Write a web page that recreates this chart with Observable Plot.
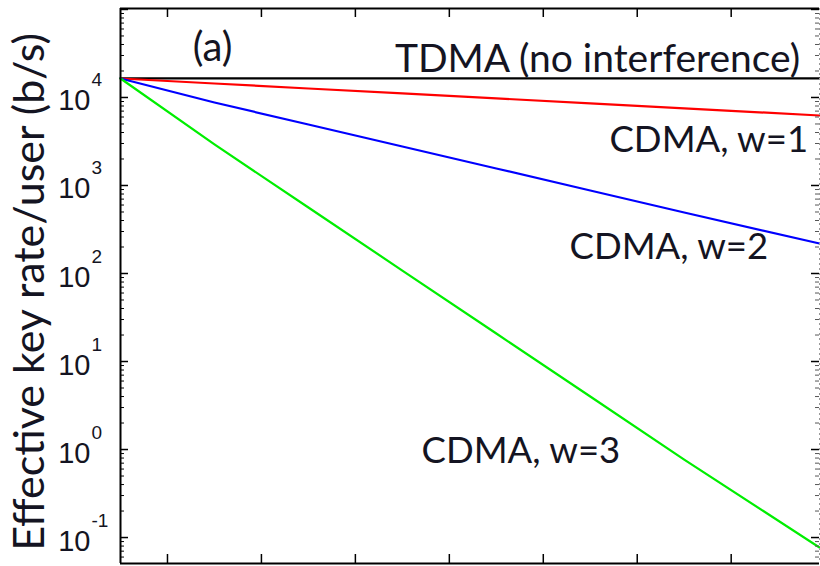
<!DOCTYPE html>
<html>
<head>
<meta charset="utf-8">
<script src="https://cdn.jsdelivr.net/npm/d3@7"></script>
<script src="https://cdn.jsdelivr.net/npm/@observablehq/plot@0.6"></script>
<style>
  html, body { margin: 0; padding: 0; background: #fff; overflow: hidden; }
  #chart svg { display: block; }
  g[aria-label="y-title"] text { letter-spacing: 1.7px; }
</style>
</head>
<body>
<div id="chart"></div>
<script>
// ---- data ----
const xs = [0.5, 1.5, 2.5, 3.5, 4.5, 5.5, 6.5, 7.94];
const tdma = [16500, 16500, 16500, 16500, 16500, 16500, 16500, 16500];
const cdmaW1 = [16440, 14420, 12650, 11130, 9770, 8570, 7530, 6240];
const cdmaW2 = [16440, 8770, 4930, 2770, 1560, 877, 493, 219];
const cdmaW3 = [16440, 2930, 562, 108, 20.8, 4.00, 0.769, 0.0769];
const seriesNames = ["TDMA", "CDMA w=1", "CDMA w=2", "CDMA w=3"];
const seriesColors = ["#000000", "#ff0000", "#0000ff", "#00ee00"];
const majorExponents = [-1, 0, 1, 2, 3, 4];
const tickExponents = [-2, -1, 0, 1, 2, 3, 4, 5];
const xTicks = [1, 2, 3, 4, 5, 6, 7];
const yLabel = "Effective key rate/user (b/s)";
const annotations = [
  {text: "(a)", x: 1.48, y: 10 ** 4.42, anchor: "middle"},
  {text: "TDMA (no interference)", x: 7.734, y: 10 ** 4.284, anchor: "end"},
  {text: "CDMA, w=1", x: 7.819, y: 10 ** 3.386, anchor: "end"},
  {text: "CDMA, w=2", x: 7.394, y: 10 ** 2.170, anchor: "end"},
  {text: "CDMA, w=3", x: 5.819, y: 10 ** -0.148, anchor: "end"}
];

// ---- build table ----
const allSeries = [tdma, cdmaW1, cdmaW2, cdmaW3];
const rows = [];
allSeries.forEach((vals, i) => vals.forEach((v, j) => rows.push({x: xs[j], y: v, s: seriesNames[i]})));

const xDom = [0.5, 7.94];
const yDom = [10 ** -1.295, 10 ** 5.011];
const pxPerX = 94, pxPerDecade = 88;

const majors = tickExponents.map(e => 10 ** e).filter(v => v >= yDom[0] && v <= yDom[1]);
const minors = [];
tickExponents.forEach(e => { for (let m = 2; m <= 9; m++) { const v = m * 10 ** e; if (v >= yDom[0] && v <= yDom[1]) minors.push(v); } });

const majLen = 8 / pxPerX, minLen = 4 / pxPerX;
const xTickLen = 10 ** (9 / pxPerDecade);

const labelFont = "Lato, 'Open Sans', sans-serif";
const textColor = "#141422";
const sizeFor = d => d.text.startsWith("TDMA") ? 39 : 36.5;

const plot = Plot.plot({
  width: 820,
  height: 566,
  marginLeft: 120,
  marginRight: 1,
  marginTop: 8,
  marginBottom: 3,
  x: {domain: xDom, axis: null},
  y: {type: "log", domain: yDom, axis: null},
  color: {domain: seriesNames, range: seriesColors},
  marks: [
    // data lines
    Plot.line(rows, {x: "x", y: "y", z: "s", stroke: "s", strokeWidth: 2.2}),
    // frame
    Plot.ruleX([xDom[1]], {stroke: "#9a9a9a", strokeWidth: 1, strokeDasharray: "2,3"}),
    Plot.ruleX([xDom[0]], {stroke: "#000", strokeWidth: 2}),
    Plot.ruleY([yDom[1]], {stroke: "#000", strokeWidth: 2}),
    Plot.ruleY([yDom[0]], {stroke: "#000", strokeWidth: 2}),
    // y ticks left (inward)
    Plot.ruleY(majors, {x1: xDom[0], x2: xDom[0] + majLen, stroke: "#000", strokeWidth: 1.5}),
    Plot.ruleY(minors, {x1: xDom[0], x2: xDom[0] + minLen, stroke: "#000", strokeWidth: 1}),
    // y ticks right (inward)
    Plot.ruleY(majors, {x1: xDom[1] - majLen, x2: xDom[1], stroke: "#000", strokeWidth: 1.5}),
    Plot.ruleY(minors, {x1: xDom[1] - minLen, x2: xDom[1], stroke: "#555", strokeWidth: 1}),
    // x ticks top and bottom (inward)
    Plot.ruleX(xTicks, {y1: yDom[0], y2: yDom[0] * xTickLen, stroke: "#000", strokeWidth: 1.5}),
    Plot.ruleX(xTicks, {y1: yDom[1] / xTickLen, y2: yDom[1], stroke: "#000", strokeWidth: 1.5}),
    // y tick labels: 10 with superscript exponent
    Plot.text(majorExponents, {y: d => 10 ** d, frameAnchor: "left", text: () => "10", textAnchor: "end",
      lineAnchor: "bottom", dx: -30, dy: 13, fontSize: 29, fontFamily: "'Liberation Sans', Arial, sans-serif", fill: textColor}),
    Plot.text(majorExponents, {y: d => 10 ** d, frameAnchor: "left", text: d => String(d), textAnchor: "start",
      lineAnchor: "bottom", dx: -29, dy: -11, fontSize: 19, fontFamily: "'Liberation Sans', Arial, sans-serif", fill: textColor}),
    // y axis title
    Plot.text([yLabel], {frameAnchor: "left", text: d => d, rotate: -90, lineAnchor: "bottom", textAnchor: "middle",
      dx: -77, dy: 6, fontSize: 43, fontFamily: labelFont, fill: textColor, ariaLabel: "y-title"}),
    // annotations
    Plot.text(annotations, {x: "x", y: "y", text: "text", textAnchor: "end", lineAnchor: "bottom",
      filter: d => d.anchor === "end", fontSize: sizeFor, fontFamily: labelFont, fill: textColor}),
    Plot.text(annotations, {x: "x", y: "y", text: "text", textAnchor: "middle", lineAnchor: "bottom",
      filter: d => d.anchor === "middle", fontSize: 40, fontFamily: labelFont, fill: textColor})
  ]
});
document.getElementById("chart").appendChild(plot);
</script>
</body>
</html>
